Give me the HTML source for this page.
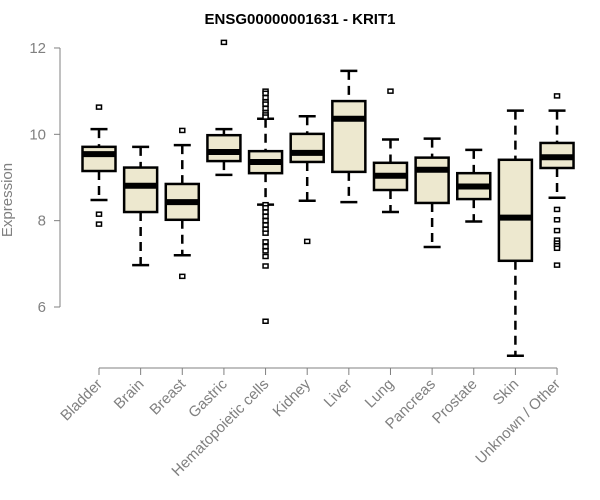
<!DOCTYPE html>
<html><head><meta charset="utf-8"><style>
body{margin:0;background:#fff;}
svg{display:block;font-family:"Liberation Sans",Arial,sans-serif;}
</style></head><body>
<svg id="chart" width="600" height="500">
<text x="300" y="24" text-anchor="middle" font-weight="bold" font-size="15" fill="#000">ENSG00000001631 - KRIT1</text>
<text transform="translate(12,200) rotate(-90)" text-anchor="middle" font-size="15" fill="#808080">Expression</text>
<g id="axes"></g><g id="boxes"></g>
</svg>
<script>
const categories=["Bladder","Brain","Breast","Gastric","Hematopoietic cells","Kidney","Liver","Lung","Pancreas","Prostate","Skin","Unknown / Other"];
const whiskerLow=[8.48,6.97,7.20,9.06,8.37,8.46,8.43,8.20,7.39,7.98,4.87,8.53];
const q1=[9.15,8.20,8.02,9.38,9.10,9.36,9.13,8.71,8.41,8.50,7.07,9.22];
const medians=[9.54,8.81,8.43,9.59,9.36,9.57,10.36,9.04,9.18,8.79,8.07,9.47];
const q3=[9.71,9.23,8.85,9.98,9.61,10.01,10.77,9.34,9.46,9.10,9.41,9.80];
const whiskerHigh=[10.12,9.71,9.75,10.12,10.36,10.42,11.47,9.88,9.90,9.64,10.55,10.55];
const outliers=[[10.63,8.15,7.92],[],[10.09,6.71],[12.13],
[11.0,10.95,10.85,10.75,10.7,10.6,10.5,10.45,10.4,8.37,8.3,8.2,8.1,8.0,7.9,7.8,7.71,7.51,7.4,7.3,7.17,6.95,5.67],
[7.52],[],[11.0],[],[],[],[10.89,8.26,8.02,7.77,7.55,7.48,7.42,7.36,6.97]];
const yTicks=[6,8,10,12];
const NS="http://www.w3.org/2000/svg";
const y=v=>307-(v-6)*43.17;
const x=i=>99+41.64*i;
const hw=16.5;
function mk(tag,attrs,parent){const e=document.createElementNS(NS,tag);for(const k in attrs)e.setAttribute(k,attrs[k]);parent.appendChild(e);return e;}
const axes=document.getElementById('axes'),boxes=document.getElementById('boxes');
let a=mk('line',{x1:60,x2:60,y1:y(12),y2:y(6),stroke:'#808080','stroke-width':1},axes);


yTicks.forEach(t=>{
 const l=mk('line',{x1:54,x2:60,y1:y(t),y2:y(t),stroke:'#808080'},axes);
 
 
 const tx=mk('text',{x:46,y:y(t)+5,'text-anchor':'end','font-size':15,fill:'#808080'},axes);
 tx.textContent=t;
 
 
});
a=mk('line',{x1:x(0),x2:x(categories.length-1),y1:368,y2:368,stroke:'#808080'},axes);


categories.forEach((c,i)=>{
 const cx=x(i);
 const l=mk('line',{x1:cx,x2:cx,y1:368,y2:375,stroke:'#808080'},axes);
 
 
 const tx=mk('text',{transform:`translate(${cx+4},${385}) rotate(-45)`,'text-anchor':'end','font-size':15,fill:'#808080'},axes);
 tx.textContent=c;
 
 
 const g=mk('g',{},boxes);
 
 
 mk('line',{x1:cx,x2:cx,y1:y(whiskerHigh[i]),y2:y(q3[i]),stroke:'#000','stroke-width':2.5,'stroke-dasharray':'9,6'},g);
 mk('line',{x1:cx,x2:cx,y1:y(q1[i]),y2:y(whiskerLow[i]),stroke:'#000','stroke-width':2.5,'stroke-dasharray':'9,6'},g);
 mk('line',{x1:cx-8.5,x2:cx+8.5,y1:y(whiskerHigh[i]),y2:y(whiskerHigh[i]),stroke:'#000','stroke-width':2.5},g);
 mk('line',{x1:cx-8.5,x2:cx+8.5,y1:y(whiskerLow[i]),y2:y(whiskerLow[i]),stroke:'#000','stroke-width':2.5},g);
 mk('rect',{x:cx-hw,y:y(q3[i]),width:hw*2,height:y(q1[i])-y(q3[i]),fill:'#ede8cf',stroke:'#000','stroke-width':2.5},g);
 mk('line',{x1:cx-hw,x2:cx+hw,y1:y(medians[i]),y2:y(medians[i]),stroke:'#000','stroke-width':6},g);
 outliers[i].forEach(o=>{
  const r=mk('rect',{x:cx-2.5,y:y(o)-2,width:5,height:4,fill:'#fff',stroke:'#000','stroke-width':1.5},g);
  
  
 });
});
</script>
</body></html>
